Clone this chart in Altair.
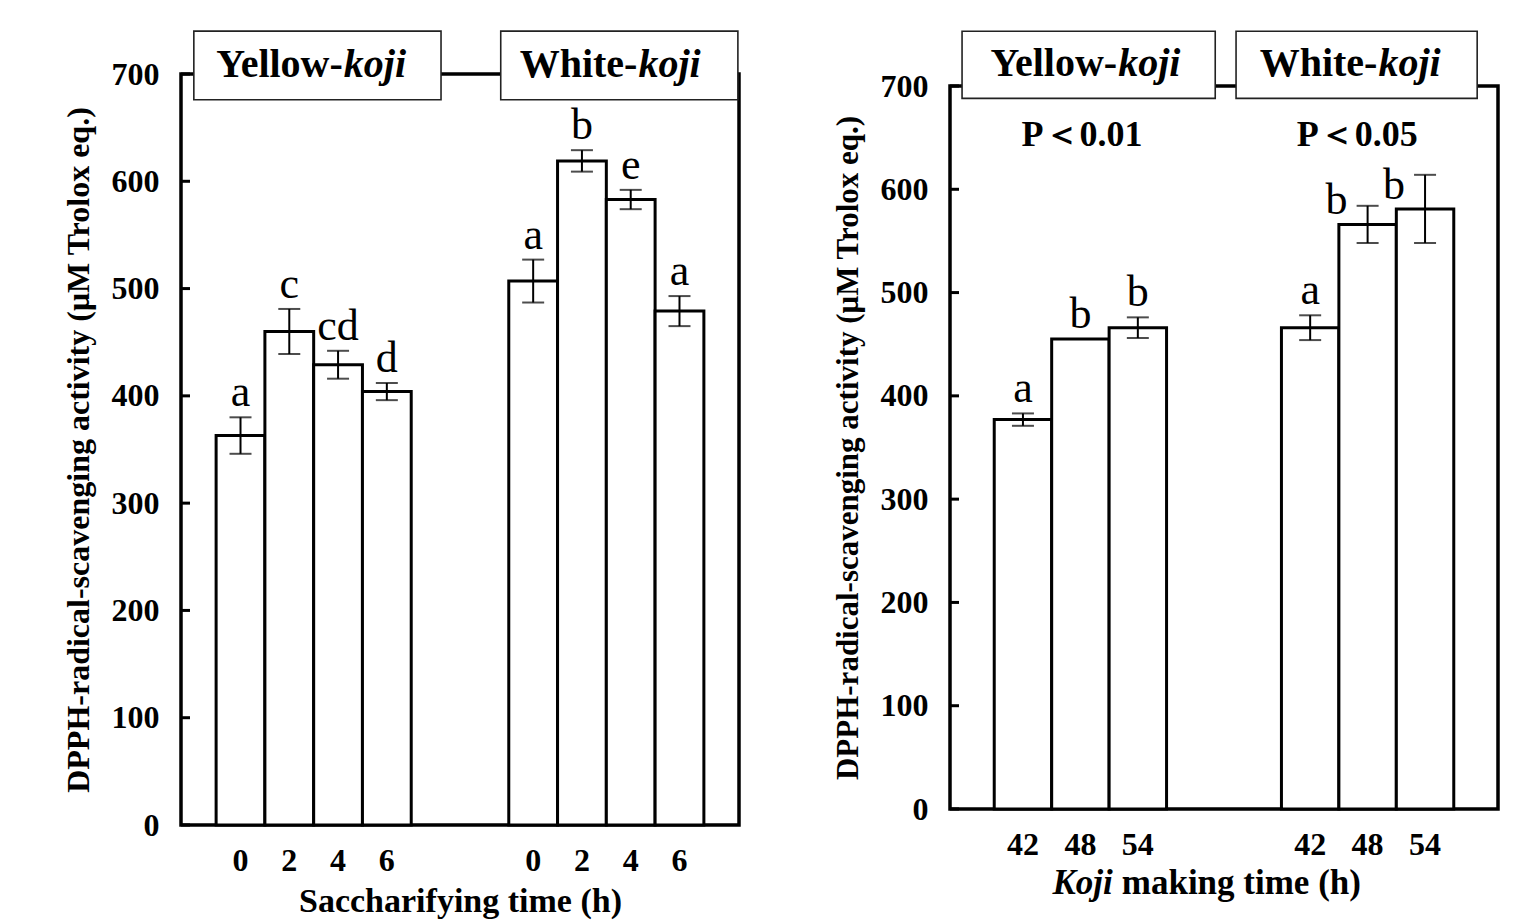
import altair as alt
import pandas as pd

# ---------------- data ----------------
left_groups = ["Yellow", "Yellow", "Yellow", "Yellow", "White", "White", "White", "White"]
left_times = ["0", "2", "4", "6", "0", "2", "4", "6"]
left_means = [363, 460, 429, 404, 507, 619, 583, 479]
left_errors = [17, 21, 13, 8, 20, 10, 9, 14]
left_letters = ["a", "c", "cd", "d", "a", "b", "e", "a"]

right_groups = ["Yellow", "Yellow", "Yellow", "White", "White", "White"]
right_times = ["42", "48", "54", "42", "48", "54"]
right_means = [377, 455, 466, 466, 566, 581]
right_errors = [6, 0, 10, 12, 18, 33]
right_letters = ["a", "b", "b", "a", "b", "b"]

y_tick_values = [0, 100, 200, 300, 400, 500, 600, 700]
koji_prefix = ["Yellow-", "White-"]
koji_word = ["koji", "koji"]
p_labels = ["P＜0.01", "P＜0.05"]
y_title = "DPPH-radical-scavenging activity (μM Trolox eq.)"
left_x_title = "Saccharifying time (h)"
right_x_title_italic = "Koji"
right_x_title_rest = "making time (h)"

SERIF = "Liberation Serif"


def make_df(groups, times, means, errors, letters):
    df = pd.DataFrame({"group": groups, "time": times, "mean": means,
                       "err": errors, "letter": letters})
    df["key"] = df["group"] + "|" + df["time"]
    return df


def domain_for(groups, times):
    keys = [g + "|" + t for g, t in zip(groups, times)]
    n_first = groups.count(groups[0])
    return keys[:n_first] + ["gap|a", "gap|b"] + keys[n_first:]


LABEL_EXPR = "indexof(datum.value, 'gap') >= 0 ? '' : split(datum.value, '|')[1]"


def panel(df, domain, pad_outer, width, height, y_title_size, x_axis_title,
          boxes, box_y, text_y, split_x, box_font, shifted_keys, extra_layers):
    ys = alt.Scale(domain=[0, 700], nice=False, zero=True)
    y_axis = alt.Axis(values=y_tick_values, ticks=False, domain=False, grid=False,
                      labelFont=SERIF, labelFontWeight="bold", labelFontSize=32,
                      labelColor="black", labelPadding=22,
                      title=y_title, titleFont=SERIF, titleFontWeight="bold",
                      titleFontSize=y_title_size, titleColor="black", titlePadding=16)
    xs = alt.Scale(type="band", domain=domain, paddingInner=0, paddingOuter=pad_outer)
    if x_axis_title:
        x_axis = alt.Axis(labelExpr=LABEL_EXPR, labelAngle=0, ticks=False, domain=False,
                          grid=False, labelFont=SERIF, labelFontWeight="bold",
                          labelFontSize=32, labelColor="black", labelPadding=20,
                          title=x_axis_title, titleFont=SERIF, titleFontWeight="bold",
                          titleFontSize=34, titleColor="black", titlePadding=8)
    else:
        x_axis = alt.Axis(labelExpr=LABEL_EXPR, labelAngle=0, ticks=False, domain=False,
                          grid=False, labelFont=SERIF, labelFontWeight="bold",
                          labelFontSize=32, labelColor="black", labelPadding=20,
                          title=None)
    x_main = alt.X("key:N", scale=xs, sort=domain, axis=x_axis)
    x_plain = alt.X("key:N", scale=xs, sort=domain, axis=None)
    x_center = alt.X("key:N", scale=xs, sort=domain, axis=None, bandPosition=0.5)
    fx = alt.Scale(domain=[0, 1], nice=False, zero=False)

    base = alt.Chart(df).transform_calculate(lo="datum.mean - datum.err",
                                             hi="datum.mean + datum.err")
    bars = base.mark_bar(fill="white", stroke="black", strokeWidth=3).encode(
        x=x_main, y=alt.Y("mean:Q", scale=ys, axis=y_axis))
    rules = base.mark_rule(color="black", strokeWidth=2).encode(
        x=x_center, y=alt.Y("lo:Q", scale=ys, axis=y_axis), y2="hi:Q")
    cap_lo = base.mark_tick(color="black", thickness=2, size=22).encode(
        x=x_plain, y=alt.Y("lo:Q", scale=ys, axis=y_axis))
    cap_hi = base.mark_tick(color="black", thickness=2, size=22).encode(
        x=x_plain, y=alt.Y("hi:Q", scale=ys, axis=y_axis))
    normal_keys = [k for k in df["key"] if k not in shifted_keys]
    letters_normal = base.transform_filter(
        alt.FieldOneOfPredicate(field="key", oneOf=normal_keys)
    ).mark_text(font=SERIF, fontSize=44, baseline="alphabetic", align="center",
                dy=-11, color="black").encode(
        x=x_center, y=alt.Y("hi:Q", scale=ys, axis=y_axis), text="letter:N")
    layers = [bars, rules, cap_lo, cap_hi, letters_normal]
    if shifted_keys:
        letters_shift = base.transform_filter(
            alt.FieldOneOfPredicate(field="key", oneOf=shifted_keys)
        ).mark_text(font=SERIF, fontSize=44, baseline="alphabetic", align="center",
                    dy=-10, dx=-31, color="black").encode(
            x=x_center, y=alt.Y("mean:Q", scale=ys, axis=y_axis), text="letter:N")
        layers.append(letters_shift)

    # inward tick marks on the left axis
    ticks_df = pd.DataFrame({"v": y_tick_values})
    tick_rules = alt.Chart(ticks_df).mark_rule(color="black", strokeWidth=3).encode(
        y=alt.Y("v:Q", scale=ys, axis=y_axis),
        x=alt.X("a:Q", scale=fx, axis=None), x2="b:Q"
    ).transform_calculate(a="0", b=str(9.0 / width))
    layers.append(tick_rules)

    # header boxes
    box_df = pd.DataFrame({"x1": [b[0] for b in boxes], "x2": [b[1] for b in boxes],
                           "y1": [box_y[0]] * 2, "y2": [box_y[1]] * 2})
    box = alt.Chart(box_df).mark_rect(fill="white", stroke="#222", strokeWidth=1.6).encode(
        x=alt.X("x1:Q", scale=fx, axis=None), x2="x2:Q",
        y=alt.Y("y1:Q", scale=ys, axis=y_axis), y2="y2:Q")
    layers.append(box)
    txt_df = pd.DataFrame({"sx": split_x, "ty": [text_y] * 2,
                           "pre": koji_prefix, "word": koji_word})
    pre = alt.Chart(txt_df).mark_text(font=SERIF, fontWeight="bold", fontSize=box_font,
                                      align="right", baseline="middle", color="black").encode(
        x=alt.X("sx:Q", scale=fx, axis=None), y=alt.Y("ty:Q", scale=ys, axis=y_axis),
        text="pre:N")
    word = alt.Chart(txt_df).mark_text(font=SERIF, fontWeight="bold", fontStyle="italic",
                                       fontSize=box_font, align="left", baseline="middle",
                                       dx=1, color="black").encode(
        x=alt.X("sx:Q", scale=fx, axis=None), y=alt.Y("ty:Q", scale=ys, axis=y_axis),
        text="word:N")
    layers += [pre, word]
    layers += [l(fx, ys, y_axis) for l in extra_layers]

    return alt.layer(*layers).resolve_scale(x="independent").properties(
        width=width, height=height)


left_df = make_df(left_groups, left_times, left_means, left_errors, left_letters)
right_df = make_df(right_groups, right_times, right_means, right_errors, right_letters)


def p_layer(fx, ys, y_axis):
    d = pd.DataFrame({"px": [0.241, 0.743], "py": [653, 653], "t": p_labels})
    return alt.Chart(d).mark_text(font=SERIF, fontWeight="bold", fontSize=36,
                                  align="center", baseline="middle", color="black").encode(
        x=alt.X("px:Q", scale=fx, axis=None), y=alt.Y("py:Q", scale=ys, axis=y_axis),
        text="t:N")


def title_italic(fx, ys, y_axis):
    d = pd.DataFrame({"px": [0.297], "py": [-72], "t": [right_x_title_italic]})
    return alt.Chart(d).mark_text(font=SERIF, fontWeight="bold", fontStyle="italic",
                                  fontSize=35, align="right", baseline="middle",
                                  color="black").encode(
        x=alt.X("px:Q", scale=fx, axis=None), y=alt.Y("py:Q", scale=ys, axis=y_axis),
        text="t:N")


def title_rest(fx, ys, y_axis):
    d = pd.DataFrame({"px": [0.297], "py": [-72], "t": [right_x_title_rest]})
    return alt.Chart(d).mark_text(font=SERIF, fontWeight="bold", fontSize=35,
                                  align="left", baseline="middle", dx=9,
                                  color="black").encode(
        x=alt.X("px:Q", scale=fx, axis=None), y=alt.Y("py:Q", scale=ys, axis=y_axis),
        text="t:N")


def spacer(h):
    return alt.Chart(pd.DataFrame({"s": [0]})).mark_text(text="").encode(
        x=alt.value(0), y=alt.value(0)
    ).properties(width=10, height=h,
                 view=alt.ViewBackground(strokeWidth=0, strokeOpacity=0))


left = panel(left_df, domain_for(left_groups, left_times), 0.72, 558, 751, 32,
             left_x_title,
             boxes=[(0.023, 0.466), (0.573, 0.998)], box_y=(676, 740), text_y=708,
             split_x=[0.290, 0.818], box_font=40, shifted_keys=[], extra_layers=[])

right = panel(right_df, domain_for(right_groups, right_times), 0.77, 548, 723, 31,
              None,
              boxes=[(0.022, 0.484), (0.522, 0.962)], box_y=(688, 753), text_y=721,
              split_x=[0.305, 0.78], box_font=40,
              shifted_keys=["White|48", "White|54"],
              extra_layers=[p_layer, title_italic, title_rest])

left_cell = alt.vconcat(spacer(5), left, spacing=0)
right_cell = alt.vconcat(spacer(2), right, spacing=0)

chart = alt.hconcat(left_cell, right_cell, spacing=89).properties(
    padding={"left": 52, "top": 9, "right": 10, "bottom": 2}
).configure_view(stroke="black", strokeWidth=3.5)

chart.save("out.html", embed_options={"renderer": "svg", "actions": False})
